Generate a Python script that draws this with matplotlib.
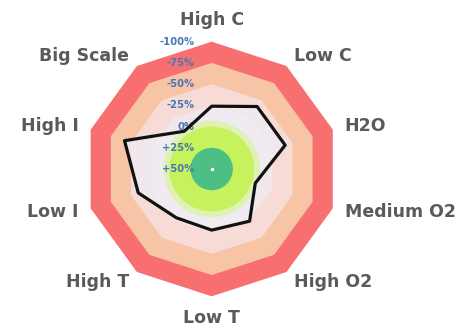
import numpy as np
import matplotlib.pyplot as plt
from matplotlib.patches import Polygon, Circle

# Radar categories, clockwise from the top
categories = ["High C", "Low C", "H2O", "Medium O2", "High O2",
              "Low T", "High T", "Low I", "High I", "Big Scale"]
# Score of each category (percent); +50 sits in the centre, -100 on the rim
scores = [-24, -41, -41, -4, -26, -22, -21, -41, -58, -5]

# Radial scale ticks
ring_values = [-100, -75, -50, -25, 0, 25, 50]
ring_labels = ["-100%", "-75%", "-50%", "-25%", "0%", "+25%", "+50%"]

# Background zones: decagon bands (outer edge, colour) and round inner zones
band_edges = [-100, -75, -50, -25]
band_colors = ["#f7706f", "#f8c4a6", "#f7dbd6", "#f3e6ea"]
inner_edges = [0, 25]
inner_colors = ["#c6f25e", "#4dbf84"]

CENTER_SCORE = 50


def radius(v):
    """Distance from the centre for a score (inverted radial scale)."""
    return CENTER_SCORE - np.asarray(v, dtype=float)


n = len(categories)
theta = np.pi / 2 - 2 * np.pi * np.arange(n) / n


def ring_xy(v):
    r = radius(v)
    return np.column_stack([r * np.cos(theta), r * np.sin(theta)])


W, H = 463, 326
fig = plt.figure(figsize=(W / 100, H / 100), dpi=100)
ax = fig.add_axes([0, 0, 1, 1])
ax.set_axis_off()

# view: centre of the chart at (211.7, 169) px, rim radius 127.3 px
s = radius(-100) / 127.3
cx, cy = 211.7, 169.0
ax.set_xlim(-cx * s, (W - cx) * s)
ax.set_ylim(-(H - cy) * s, cy * s)
ax.set_aspect("equal")

# decagon bands
for edge, col in zip(band_edges, band_colors):
    ax.add_patch(Polygon(ring_xy(edge), closed=True, facecolor=col,
                         edgecolor="none", zorder=1))

# score polygon fill
pts = ring_xy(scores)
ax.add_patch(Polygon(pts, closed=True, facecolor="#f0ecf4", alpha=0.8,
                     edgecolor="none", zorder=2))

# round inner zones with a soft rim on the outer one
ax.add_patch(Circle((0, 0), radius(inner_edges[0]) + 7, facecolor="#d9f59a",
                    edgecolor="none", alpha=0.7, zorder=3))
for edge, col in zip(inner_edges, inner_colors):
    ax.add_patch(Circle((0, 0), radius(edge), facecolor=col,
                        edgecolor="none", zorder=3))
ax.plot([0], [0], marker="o", ms=2.5, color="white", mec="none", zorder=4)

# radial tick labels
for v, txt in zip(ring_values, ring_labels):
    ax.text(-20.5, radius(v), txt, ha="right", va="center", fontsize=7.2,
            fontweight="bold", color="#4677b6", zorder=5,
            family="DejaVu Sans")

# score outline
ax.add_patch(Polygon(pts, closed=True, facecolor="none", edgecolor="#111111",
                     lw=2.3, joinstyle="round", zorder=6))

# category labels around the rim
lab_r = 140 * s
for name, t in zip(categories, theta):
    c, sn = np.cos(t), np.sin(t)
    ha = "left" if c > 0.1 else ("right" if c < -0.1 else "center")
    if sn > 0.9:
        va = "bottom"
    elif sn < -0.9:
        va = "top"
    else:
        va = "center"
    ax.text(lab_r * c, lab_r * sn, name, ha=ha, va=va, fontsize=12.5,
            fontweight="bold", color="#5a5a5a", family="DejaVu Sans")

fig.savefig("out.png", dpi=100)
